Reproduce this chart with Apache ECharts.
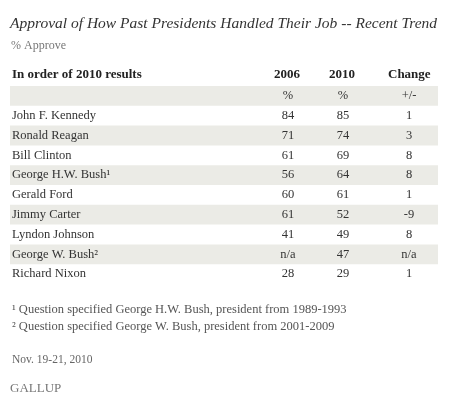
<!DOCTYPE html>
<html>
<head>
<meta charset="utf-8">
<script src="https://cdn.jsdelivr.net/npm/echarts@6/dist/echarts.min.js"></script>
<style>html,body{margin:0;background:#fff}#chart{width:450px;height:414px}</style>
</head>
<body>
<div id="chart"></div>
<script>
var names = ['', 'John F. Kennedy', 'Ronald Reagan', 'Bill Clinton', 'George H.W. Bush\u00b9', 'Gerald Ford',
  'Jimmy Carter', 'Lyndon Johnson', 'George W. Bush\u00b2', 'Richard Nixon'];
var y2006 = ['%', '84', '71', '61', '56', '60', '61', '41', 'n/a', '28'];
var y2010 = ['%', '85', '74', '69', '64', '61', '52', '49', '47', '29'];
var change = ['+/-', '1', '3', '8', '8', '1', '-9', '8', 'n/a', '1'];
var shaded = [1, 0, 1, 0, 1, 0, 1, 0, 1, 0];

var font = '"Liberation Serif", "DejaVu Serif", serif';
var rows = names.map(function (n, i) { return [i, n, y2006[i], y2010[i], change[i], shaded[i]]; });

var myChart = echarts.init(document.getElementById('chart'));

var option = {
  backgroundColor: '#fff',
  animation: false,
  grid: { left: 10, right: 12, top: 86, height: 198 },
  xAxis: { type: 'value', min: 0, max: 1, show: false },
  yAxis: { type: 'category', data: names, inverse: true, show: false },
  graphic: [
    { type: 'text', left: 10, top: 16, style: { text: 'Approval of How Past Presidents Handled Their Job -- Recent Trend', font: 'italic 15.5px ' + font, fill: '#333' } },
    { type: 'text', left: 11, top: 40, style: { text: '% Approve', font: '12px ' + font, fill: '#777' } },
    { type: 'text', left: 12, top: 68, style: { text: 'In order of 2010 results', font: 'bold 13px ' + font, fill: '#222' } },
    { type: 'text', left: 274, top: 68, style: { text: '2006', font: 'bold 13px ' + font, fill: '#222' } },
    { type: 'text', left: 329, top: 68, style: { text: '2010', font: 'bold 13px ' + font, fill: '#222' } },
    { type: 'text', left: 388, top: 68, style: { text: 'Change', font: 'bold 13px ' + font, fill: '#222' } },
    { type: 'text', left: 12, top: 303, style: { text: '\u00b9 Question specified George H.W. Bush, president from 1989-1993', font: '12.5px ' + font, fill: '#555' } },
    { type: 'text', left: 12, top: 320, style: { text: '\u00b2 Question specified George W. Bush, president from 2001-2009', font: '12.5px ' + font, fill: '#555' } },
    { type: 'text', left: 12, top: 354, style: { text: 'Nov. 19-21, 2010', font: '11.5px ' + font, fill: '#666' } },
    { type: 'text', left: 10, top: 382, style: { text: 'GALLUP', font: '13px ' + font, fill: '#777' } }
  ],
  series: [{
    type: 'custom',
    data: rows,
    encode: { y: 0 },
    renderItem: function (params, api) {
      var cs = params.coordSys;
      var c = api.coord([0, api.value(0)]);
      var h = api.size([0, 1])[1];
      var top = c[1] - h / 2;
      var d = rows[params.dataIndex];
      var txt = function (x, s, align) {
        return { type: 'text', style: { x: x, y: c[1], text: s, align: align, verticalAlign: 'middle', font: '12.5px ' + font, fill: '#333' } };
      };
      var kids = [];
      if (d[5]) kids.push({ type: 'rect', shape: { x: cs.x, y: top, width: cs.width, height: h }, style: { fill: '#ebebe6' } });
      kids.push(txt(cs.x + 2, d[1], 'left'));
      kids.push(txt(288, d[2], 'center'));
      kids.push(txt(343, d[3], 'center'));
      kids.push(txt(409, d[4], 'center'));
      return { type: 'group', children: kids };
    }
  }]
};

myChart.setOption(option);
</script>
</body>
</html>
